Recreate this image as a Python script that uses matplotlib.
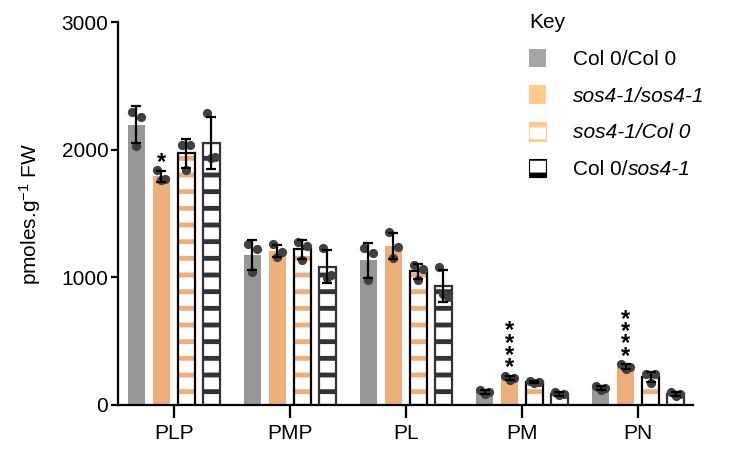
import matplotlib
matplotlib.use('Agg')
import matplotlib.pyplot as plt
import numpy as np
from matplotlib.patches import Patch

plt.rcParams['font.family'] = ['Liberation Sans', 'DejaVu Sans']
plt.rcParams['mathtext.fontset'] = 'custom'
plt.rcParams['mathtext.rm'] = 'Liberation Sans'
plt.rcParams['mathtext.it'] = 'Liberation Sans:italic'
plt.rcParams['hatch.linewidth'] = 3.5

groups = ['PLP', 'PMP', 'PL', 'PM', 'PN']
labels = ['Col 0/Col 0', 'sos4-1/sos4-1', 'sos4-1/Col 0', 'Col 0/']
label_tail = 'sos4-1'
italic_labels = [False, True, True, False]

# replicate values, one list of 3 per group
col0_col0 = [[2300, 2260, 2030], [1260, 1220, 1045], [1230, 1190, 980], [115, 100, 85], [150, 135, 115]]
sos4_sos4 = [[1840, 1770, 1765], [1260, 1200, 1160], [1355, 1240, 1150], [230, 210, 195], [320, 300, 285]]
sos4_col0 = [[2035, 2040, 1840], [1280, 1245, 1135], [1095, 1065, 980], [185, 180, 170], [245, 240, 170]]
col0_sos4 = [[2290, 1940, 1935], [1230, 1020, 995], [1080, 850, 870], [100, 85, 75], [100, 85, 70]]
sig_sos4 = ['*', '', '', '****', '****']

gray = '#979797'
orange = '#EDB07A'
dark = '#333333'

fig = plt.figure(figsize=(7.44, 4.53), dpi=100)
ax = fig.add_axes([0.1586, 0.106, 0.7724, 0.845])

x = np.arange(len(groups))
step = 0.215
width = 0.146
series = [col0_col0, sos4_sos4, sos4_col0, col0_sos4]
jit = np.array([-0.25, 0.25, 0.0]) * width

for k, data in enumerate(series):
    arr = np.array(data, dtype=float)
    means = arr.mean(axis=1)
    sds = arr.std(axis=1, ddof=1)
    xs = x + (k - 1.5) * step
    if k == 0:
        ax.bar(xs, means, width, color=gray, zorder=1)
    elif k == 1:
        ax.bar(xs, means, width, color=orange, zorder=1)
    elif k == 2:
        ax.bar(xs, means, width, facecolor='white', edgecolor=orange, linewidth=0, hatch='-', zorder=1)
        ax.bar(xs, means, width, fill=False, edgecolor='black', linewidth=1.6, zorder=2)
    else:
        ax.bar(xs, means, width, facecolor='white', edgecolor=dark, linewidth=0, hatch='-', zorder=1)
        ax.bar(xs, means, width, fill=False, edgecolor=dark, linewidth=1.6, zorder=2)
    for i in range(len(groups)):
        ax.scatter(xs[i] + jit, arr[i], s=44, color='#404040', zorder=3, linewidths=0)
    ax.errorbar(xs, means, yerr=sds, fmt='none', ecolor='black', elinewidth=1.6,
                capsize=3.5, capthick=1.6, zorder=4)
    if k == 1:
        for i, s in enumerate(sig_sos4):
            if s:
                ax.annotate('\n'.join(s), xy=(xs[i], arr[i].max()), xytext=(0, -2.5),
                            textcoords='offset points', ha='center', va='bottom',
                            fontsize=17, fontweight='bold', linespacing=0.4)

ax.set_xlim(-0.48, 4.47)
ax.set_ylim(0, 3000)
ax.set_yticks([0, 1000, 2000, 3000])
ax.set_xticks(x)
ax.set_xticklabels(groups)
ax.spines['top'].set_visible(False)
ax.spines['right'].set_visible(False)
ax.spines['left'].set_linewidth(1.6)
ax.spines['bottom'].set_linewidth(1.6)
ax.tick_params(axis='y', length=5, width=1.6, labelsize=15, pad=2)
ax.tick_params(axis='x', length=9, width=1.6, labelsize=15, pad=5)
ax.set_ylabel(r'pmoles.g$^{-1}$ FW', fontsize=15, labelpad=13)

handles = [Patch(facecolor='#A6A6A6'),
           Patch(facecolor='#FFCC8E'),
           Patch(facecolor='white', edgecolor='#FFCC8E', hatch='-', linewidth=0.8),
           Patch(facecolor='white', edgecolor='black', hatch='-', linewidth=0.8)]
leg = fig.legend(handles, labels, title='Key', loc='upper left',
                 bbox_to_anchor=(0.686, 1.012), frameon=False, fontsize=15,
                 title_fontsize=15, handlelength=0.82, handleheight=1.0,
                 handletextpad=1.3, labelspacing=0.78, alignment='left')
for t, it in zip(leg.get_texts(), italic_labels):
    if it:
        t.set_fontstyle('italic')

# italic tail of the last legend entry
fig.canvas.draw()
r = fig.canvas.get_renderer()
last = leg.get_texts()[3]
bb = last.get_window_extent(r)
base_y = last.get_transform().transform(last.get_position())[1]
fx, fy = fig.transFigure.inverted().transform((bb.x1, base_y))
fig.text(fx, fy, label_tail, fontsize=15, fontstyle='italic', ha='left', va='baseline')

fig.savefig('out.png', dpi=100)
